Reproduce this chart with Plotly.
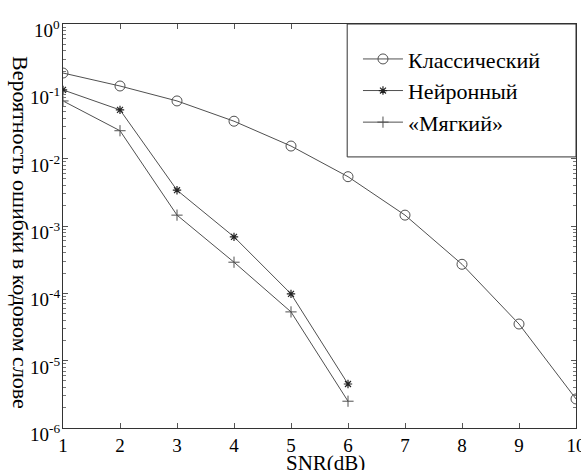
import plotly.graph_objects as go

snr_classic = [1, 2, 3, 4, 5, 6, 7, 8, 9, 10]
p_classic = [0.187, 0.12, 0.072, 0.036, 0.0154, 0.0054, 0.00145, 2.7e-4, 3.5e-5, 2.7e-6]

snr_neural = [1, 2, 3, 4, 5, 6]
p_neural = [0.105, 0.053, 0.0034, 6.9e-4, 9.8e-5, 4.5e-6]

snr_soft = [1, 2, 3, 4, 5, 6]
p_soft = [0.072, 0.026, 0.00145, 2.9e-4, 5.3e-5, 2.5e-6]

names = ["Классический", "Нейронный", "«Мягкий»"]
x_ticks = [1, 2, 3, 4, 5, 6, 7, 8, 9, 10]
y_exponents = [-6, -5, -4, -3, -2, -1, 0]
y_tickvals = [10.0 ** e for e in y_exponents]
y_ticktext = [f"10<sup>{e}</sup>" for e in y_exponents]
y_minor = [m * 10.0 ** e for e in y_exponents[:-1] for m in range(2, 10)]
y_title = "Вероятность ошибки в кодовом слове"
x_title = "SNR(dB)"

LINE = "#505050"
FONT = "Liberation Serif, DejaVu Serif, serif"

fig = go.Figure()
fig.add_trace(go.Scatter(x=snr_classic, y=p_classic, name=names[0], mode="lines+markers",
                         line=dict(color=LINE, width=1), legendgroup="a",
                         marker=dict(symbol="circle-open", size=10, color=LINE, line=dict(width=1))))
fig.add_trace(go.Scatter(x=snr_neural, y=p_neural, name=names[1], mode="lines+markers",
                         line=dict(color=LINE, width=1), legendgroup="b",
                         marker=dict(symbol="asterisk-open", size=7, color="#222", line=dict(width=1.2, color="#222"))))
fig.add_trace(go.Scatter(x=snr_soft, y=p_soft, name=names[2], mode="lines+markers",
                         line=dict(color=LINE, width=1), legendgroup="c",
                         marker=dict(symbol="cross-thin-open", size=8, color=LINE, line=dict(width=1, color=LINE))))

axis_common = dict(showline=True, linecolor="#333", linewidth=1, mirror="ticks",
                   ticks="inside", ticklen=5, tickcolor="#555", showgrid=False, zeroline=False,
                   automargin=False, ticklabeloverflow="allow",
                   tickfont=dict(family=FONT, size=19, color="black"))

fig.update_xaxes(range=[1, 10], tickvals=x_ticks, **axis_common)
fig.update_yaxes(type="log", range=[-6, 0], tickvals=y_tickvals, showticklabels=False, **axis_common,
                 minor=dict(ticks="inside", ticklen=3, tickcolor="#777", tickvals=y_minor, showgrid=False))

# y tick labels (MATLAB style: base slightly below the tick, exponent at tick level)
for e, txt in zip(y_exponents, y_ticktext):
    fig.add_annotation(text=txt, xref="paper", yref="y", x=0, y=e, xanchor="right",
                       yanchor="middle", xshift=-1, yshift=-5, showarrow=False,
                       font=dict(family=FONT, size=19, color="black"))

fig.add_annotation(text=y_title, xref="paper", yref="paper", x=0, y=0.5, xanchor="center",
                   yanchor="middle", xshift=-42, yshift=-6, textangle=90, showarrow=False,
                   font=dict(family=FONT, size=22, color="black"))
fig.add_annotation(text=x_title, xref="paper", yref="paper", x=0.5, y=0, xanchor="center",
                   yanchor="top", xshift=6, yshift=-21, showarrow=False,
                   font=dict(family=FONT, size=21, color="black"))

fig.add_shape(type="rect", xref="paper", yref="paper", x0=0.554, x1=1.0, y0=0.671, y1=1.0,
              line=dict(color="#333", width=1), fillcolor="white", layer="above")

fig.update_layout(
    width=581, height=470,
    margin=dict(l=63, r=5, t=24, b=42),
    paper_bgcolor="white", plot_bgcolor="white",
    font=dict(family=FONT, color="black"),
    legend=dict(x=0.575, y=0.965, xanchor="left", yanchor="top", bgcolor="rgba(0,0,0,0)",
                font=dict(family=FONT, size=22, color="black"), itemwidth=40,
                tracegroupgap=0, borderwidth=0),
    showlegend=True,
)

fig.write_html("out.html", config={"displayModeBar": False},
               post_script="document.body.style.margin='0';")
